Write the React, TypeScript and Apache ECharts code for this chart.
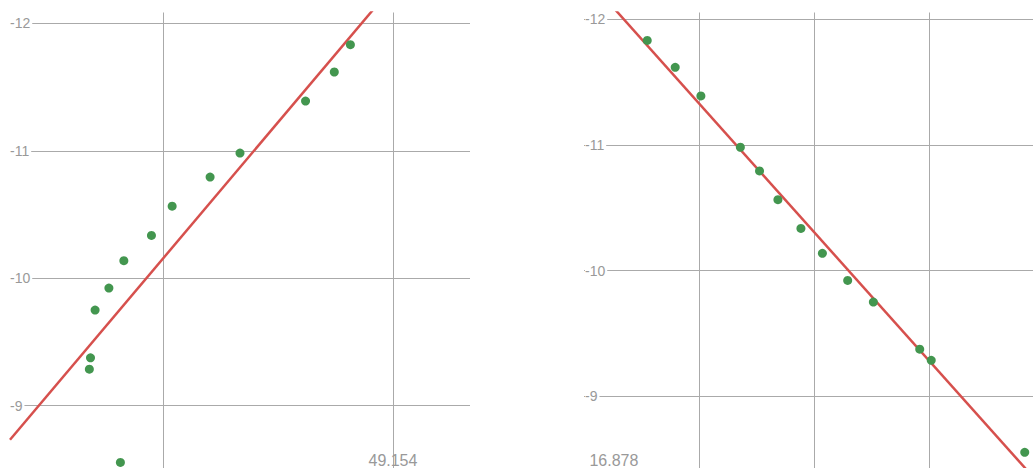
import React, { useEffect, useRef } from "react";
import * as echarts from "echarts";

// Shared y values (both panels plot the same magnitudes)
const magnitude = [-11.832, -11.618, -11.39, -10.982, -10.794, -10.565, -10.336, -10.138, -9.923, -9.75, -9.376, -9.287, -8.555];
// Left panel x values
const leftX = [49.15363, 49.15349, 49.15324, 49.15267, 49.15241, 49.15208, 49.1519, 49.15166, 49.15153, 49.15141, 49.15137, 49.15136, 49.15163];
// Right panel x values
const rightX = [16.965, 17.038, 17.105, 17.208, 17.258, 17.306, 17.366, 17.422, 17.488, 17.555, 17.676, 17.706, 17.95];

// Tick labels
const yTickLabels = [-12, -11, -10, -9];
const leftXLabels = [49.154];
const rightXLabels = [16.878];

// Axis extents
const leftXRange = [49.15067, 49.15467];
const rightXRange = [16.8, 18.042];
const leftYRange = [-12.0847, -8.4172];
const rightYRange = [-12.0541, -8.3349];

function fit(xs: number[], ys: number[]) {
  const n = xs.length;
  const mx = xs.reduce((a, b) => a + b, 0) / n;
  const my = ys.reduce((a, b) => a + b, 0) / n;
  let sxy = 0;
  let sxx = 0;
  for (let i = 0; i < n; i++) {
    sxy += (xs[i] - mx) * (ys[i] - my);
    sxx += (xs[i] - mx) * (xs[i] - mx);
  }
  const slope = sxy / sxx;
  const intercept = my - slope * mx;
  return (x: number) => intercept + slope * x;
}

const FONT = "'Liberation Sans', Arial, Helvetica, sans-serif";
const GRID_COLOR = "#aaa";
const LABEL_COLOR = "#999";
const DOT = "#43964f";
const RED = "#d6504d";

export default function App() {
  const ref = useRef<HTMLDivElement>(null);
  useEffect(() => {
    if (!ref.current) return;
    const chart = echarts.init(ref.current, undefined, { renderer: "svg" });
    const splitLine = {
      show: true,
      showMinLine: false,
      showMaxLine: false,
      lineStyle: { color: GRID_COLOR, width: 1 },
    };
    const fL = fit(leftX, magnitude);
    const fR = fit(rightX, magnitude);
    const yAxisBase = (range: number[], idx: number, margin: number) => ({
      type: "value",
      gridIndex: idx,
      inverse: true,
      min: range[0],
      max: range[1],
      minInterval: 1,
      maxInterval: 1,
      axisLine: { show: false },
      axisTick: { show: false },
      splitLine,
      axisLabel: {
        inside: true,
        margin,
        customValues: yTickLabels,
        backgroundColor: "#fff",
        padding: [1, 2, 1, 0],
        color: LABEL_COLOR,
        fontSize: 14,
        fontFamily: FONT,
      },
    });
    chart.setOption({
      animation: false,
      backgroundColor: "#fff",
      grid: [
        { left: 10, top: 12.5, width: 460, height: 467.5 },
        { left: 584, top: 12.5, width: 476, height: 467.5 },
      ],
      xAxis: [
        {
          type: "value",
          gridIndex: 0,
          min: leftXRange[0],
          max: leftXRange[1],
          splitNumber: 2,
          minInterval: 0.002,
          maxInterval: 0.002,
          axisLine: { show: false },
          axisTick: { show: false },
          splitLine,
          axisLabel: {
            inside: true,
            margin: 12,
            customValues: leftXLabels,
            color: LABEL_COLOR,
            fontSize: 16,
            fontFamily: FONT,
          },
        },
        {
          type: "value",
          gridIndex: 1,
          min: rightXRange[0],
          max: rightXRange[1],
          interval: 0.3,
          axisLine: { show: false },
          axisTick: { show: false },
          splitLine,
          axisLabel: {
            inside: true,
            margin: 12,
            customValues: rightXLabels,
            color: LABEL_COLOR,
            fontSize: 16,
            fontFamily: FONT,
          },
        },
      ],
      yAxis: [yAxisBase(leftYRange, 0, 0), yAxisBase(rightYRange, 1, 1)],
      series: [
        {
          type: "line",
          xAxisIndex: 0,
          yAxisIndex: 0,
          symbol: "none",
          silent: true,
          clip: true,
          z: 2,
          lineStyle: { color: RED, width: 2.5 },
          data: [
            [leftXRange[0], fL(leftXRange[0])],
            [leftXRange[1], fL(leftXRange[1])],
          ],
        },
        {
          type: "scatter",
          xAxisIndex: 0,
          yAxisIndex: 0,
          symbolSize: 9,
          z: 3,
          itemStyle: { color: DOT, opacity: 1 },
          data: leftX.map((x, i) => [x, magnitude[i]]),
        },
        {
          type: "line",
          xAxisIndex: 1,
          yAxisIndex: 1,
          symbol: "none",
          silent: true,
          clip: true,
          z: 2,
          lineStyle: { color: RED, width: 2.5 },
          data: [
            [rightXRange[0], fR(rightXRange[0])],
            [rightXRange[1], fR(rightXRange[1])],
          ],
        },
        {
          type: "scatter",
          xAxisIndex: 1,
          yAxisIndex: 1,
          symbolSize: 9,
          z: 3,
          itemStyle: { color: DOT, opacity: 1 },
          data: rightX.map((x, i) => [x, magnitude[i]]),
        },
      ],
    });
    return () => chart.dispose();
  }, []);
  return (
    <div
      style={{
        position: "fixed",
        left: 0,
        top: 0,
        width: 1033,
        height: 468,
        overflow: "hidden",
        background: "#fff",
      }}
    >
      <div ref={ref} style={{ width: 1100, height: 500 }} />
    </div>
  );
}
